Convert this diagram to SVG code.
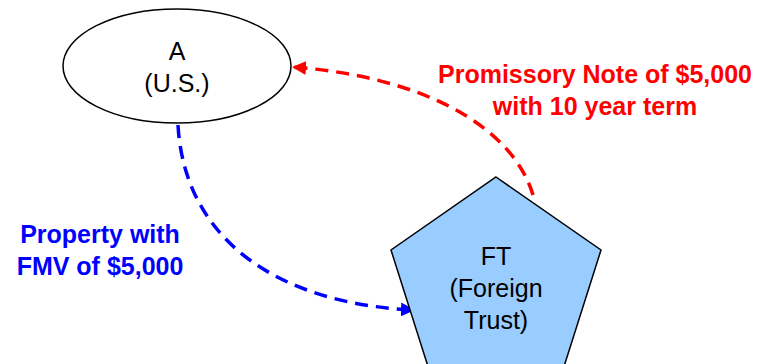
<svg xmlns="http://www.w3.org/2000/svg" width="759" height="364" viewBox="0 0 759 364">
<defs>
<style>
.node{stroke:#000;stroke-width:1.5}
.lbl{font-family:"Liberation Sans",Arial,sans-serif;font-size:25px;text-anchor:middle;fill:#000}
.elbl{font-family:"Liberation Sans",Arial,sans-serif;font-size:25px;font-weight:bold;text-anchor:middle}
.conn{fill:none;stroke-width:3.5;stroke-dasharray:13 8}
</style>
<marker id="arrR" viewBox="0 0 10 10" refX="10" refY="5" markerWidth="4" markerHeight="4" markerUnits="strokeWidth" orient="auto"><path d="M0,0 L10,5 L0,10 Z" fill="#FF0000"/></marker>
<marker id="arrB" viewBox="0 0 10 10" refX="10" refY="5" markerWidth="4" markerHeight="4" markerUnits="strokeWidth" orient="auto"><path d="M0,0 L10,5 L0,10 Z" fill="#0000FF"/></marker>
</defs>
<rect width="759" height="364" fill="#fff"/>
<g id="connectors">
<path class="conn" d="M533,195 C512,125 420,76 292,67" stroke="#FF0000" marker-end="url(#arrR)"/>
<path class="conn" d="M178,125 C185,248 290,305 415,310" stroke="#0000FF" marker-end="url(#arrB)"/>
</g>
<g id="nodeA">
<ellipse class="node" cx="177" cy="66" rx="114" ry="57" fill="#fff"/>
<text class="lbl" x="177" y="60">A</text>
<text class="lbl" x="177" y="92">(U.S.)</text>
</g>
<g id="nodeFT">
<polygon class="node" points="496,177 601,250 561,376 431,376 391,250" fill="#99CCFF"/>
<text class="lbl" x="496" y="265">FT</text>
<text class="lbl" x="496" y="297">(Foreign</text>
<text class="lbl" x="496" y="329">Trust)</text>
</g>
<g id="labels">
<text class="elbl" x="595" y="83" fill="#FF0000">Promissory Note of $5,000</text>
<text class="elbl" x="595" y="115" fill="#FF0000">with 10 year term</text>
<text class="elbl" x="100" y="243" fill="#0000FF">Property with</text>
<text class="elbl" x="100" y="275" fill="#0000FF">FMV of $5,000</text>
</g>
</svg>
